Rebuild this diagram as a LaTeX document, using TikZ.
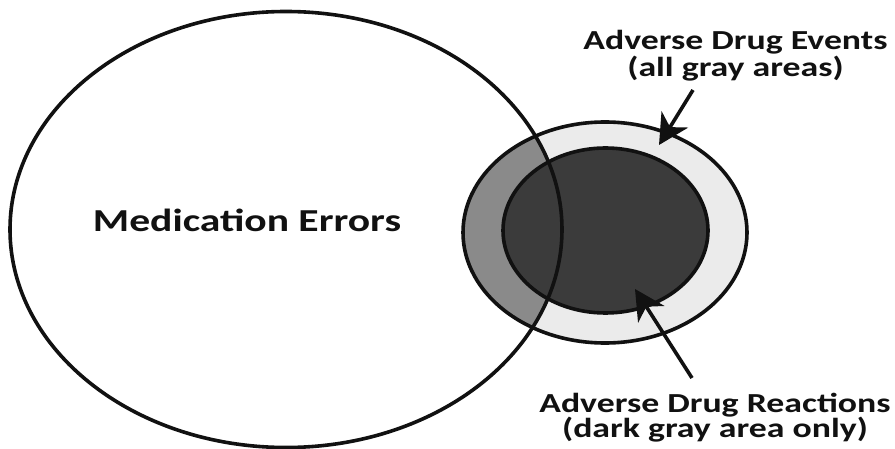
\documentclass[tikz,border=0pt]{standalone}
\usepackage{fontspec}
\setmainfont{Carlito}
\usetikzlibrary{arrows.meta}
\definecolor{lightarea}{HTML}{EBEBEB}
\definecolor{midarea}{HTML}{8A8A8A}
\definecolor{darkarea}{HTML}{3B3B3B}
\definecolor{ink}{HTML}{111111}
% wide bold lettering
\newcommand{\widetext}[1]{\scalebox{1.3}[1]{#1}}
\begin{document}
\begin{tikzpicture}[x=1pt,y=-1pt,
  outline/.style={line width=3.6pt, draw=ink},
  lbl/.style={font=\fontsize{27.5}{27.5}\selectfont\bfseries, text=ink, inner sep=0pt, anchor=base},
  pointer/.style={line width=3.6pt, draw=ink, -{Stealth[length=30pt,width=31pt,inset=9pt]}}]
\useasboundingbox[fill=white] (0,0) rectangle (895,449);

% shaded areas
\fill[lightarea] (605,232.5) ellipse [x radius=142, y radius=110.5];
\begin{scope}
  \clip (286,229.5) ellipse [x radius=276, y radius=218];
  \fill[midarea] (605,232.5) ellipse [x radius=142, y radius=110.5];
\end{scope}
\fill[darkarea] (605.5,230.5) ellipse [x radius=102.5, y radius=82.5];

% outlines
\draw[outline] (286,229.5) ellipse [x radius=276, y radius=218];
\draw[outline] (605,232.5) ellipse [x radius=142, y radius=110.5];
\draw[outline] (605.5,230.5) ellipse [x radius=102.5, y radius=82.5];

% labels
\node[lbl, font=\fontsize{32}{32}\selectfont\bfseries] (me) at (247,232) {\widetext{Medication Errors}};
\node[lbl] (ade1) at (735.5,50) {\widetext{Adverse Drug Events}};
\node[lbl] (ade2) at (735.5,77) {\widetext{(all gray areas)}};
\node[lbl] (adr1) at (715,412) {\widetext{Adverse Drug Reactions}};
\node[lbl] (adr2) at (715,437) {\widetext{(dark gray area only)}};

% pointers
\coordinate (adeTail) at (693,90);
\coordinate (adeTip) at (659,145);
\coordinate (adrTail) at (692,378);
\coordinate (adrTip) at (635,289);
\draw[pointer] (adeTail) -- (adeTip);
\draw[pointer] (adrTail) -- (adrTip);
\end{tikzpicture}
\end{document}
